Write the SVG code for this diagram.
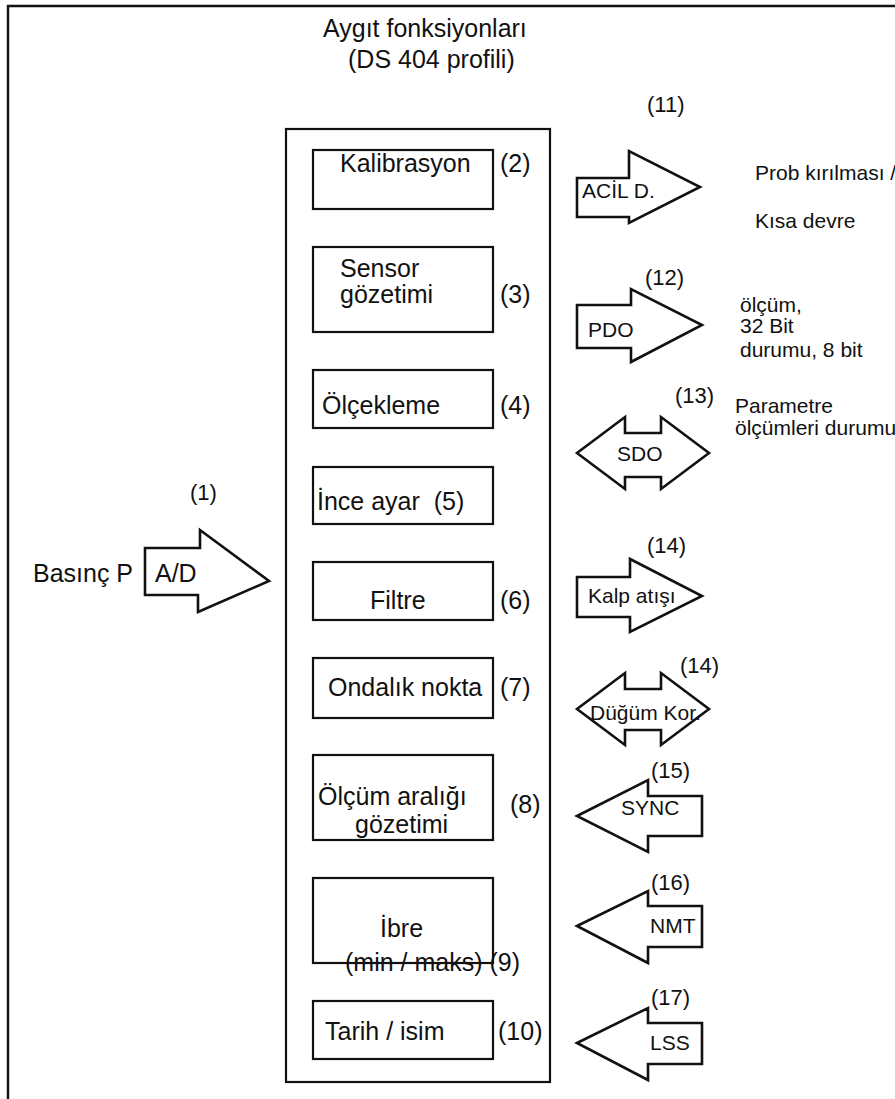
<svg xmlns="http://www.w3.org/2000/svg" width="895" height="1099" viewBox="0 0 895 1099">
<style>
text{font-family:"Liberation Sans",Arial,sans-serif;fill:#111;}
.t{font-size:25px;}
.s{font-size:21px;}
.n{font-size:22px;}
.box{fill:#fff;stroke:#111;stroke-width:2.2;}
.arr{fill:#fff;stroke:#111;stroke-width:2.6;stroke-linejoin:miter;}
.frame{fill:none;stroke:#111;stroke-width:2.4;}
</style>
<rect width="895" height="1099" fill="#fff"/>
<path class="frame" d="M8,1099 V6 H895"/>
<g id="title">
<text class="t" x="323" y="37">Aygıt fonksiyonları</text>
<text class="t" x="348" y="68">(DS 404 profili)</text>
</g>
<g id="container"><rect class="box" x="286" y="129" width="264" height="953"/></g>
<g id="n2"><rect class="box" x="313" y="150" width="180" height="59"/><text class="t" x="340" y="172">Kalibrasyon</text><text class="t" x="500" y="172">(2)</text></g>
<g id="n3"><rect class="box" x="313" y="247" width="180" height="85"/><text class="t" x="340" y="277">Sensor</text><text class="t" x="340" y="303">gözetimi</text><text class="t" x="500" y="303">(3)</text></g>
<g id="n4"><rect class="box" x="313" y="370" width="180" height="58"/><text class="t" x="322" y="414">Ölçekleme</text><text class="t" x="500" y="414">(4)</text></g>
<g id="n5"><rect class="box" x="313" y="467" width="180" height="57"/><text class="t" x="317" y="510" xml:space="preserve">İnce ayar  (5)</text></g>
<g id="n6"><rect class="box" x="313" y="562" width="180" height="58"/><text class="t" x="370" y="609">Filtre</text><text class="t" x="500" y="609">(6)</text></g>
<g id="n7"><rect class="box" x="313" y="658" width="180" height="60"/><text class="t" x="328" y="696">Ondalık nokta</text><text class="t" x="500" y="696">(7)</text></g>
<g id="n8"><rect class="box" x="313" y="755" width="180" height="85"/><text class="t" x="318" y="805">Ölçüm aralığı</text><text class="t" x="355" y="833">gözetimi</text><text class="t" x="510" y="813">(8)</text></g>
<g id="n9"><rect class="box" x="313" y="878" width="180" height="85"/><text class="t" x="380" y="937">İbre</text><text class="t" x="345" y="971">(min / maks) (9)</text></g>
<g id="n10"><rect class="box" x="313" y="1001" width="180" height="58"/><text class="t" x="325" y="1040">Tarih / isim</text><text class="t" x="498" y="1040">(10)</text></g>
<g id="connectors">
<g id="ad"><polygon class="arr" points="145,548 200,548 200,530 269,581 198,612 198,595 145,595"/><text class="t" x="155" y="582">A/D</text><text class="t" x="33" y="582">Basınç P</text><text class="n" x="190" y="500">(1)</text></g>
<g id="acil"><polygon class="arr" points="577,178 629,178 629,151 700,187 629,223 629,217 577,217"/><text class="s" x="582" y="198">ACİL D.</text><text class="n" x="647" y="112">(11)</text></g>
<g id="pdo"><polygon class="arr" points="577,305 631,305 631,289 702,325 631,362 631,348 577,348"/><text class="s" x="588" y="337">PDO</text><text class="n" x="645" y="285">(12)</text></g>
<g id="sdo"><polygon class="arr" points="577,453 625,417 625,433 661,433 661,417 709,453 661,489 661,477 625,477 625,489"/><text class="s" x="617" y="461">SDO</text><text class="n" x="675" y="403">(13)</text></g>
<g id="kalp"><polygon class="arr" points="577,577 630,577 630,559 702,596 630,632 630,617 577,617"/><text class="s" x="588" y="603">Kalp atışı</text><text class="n" x="647" y="553">(14)</text></g>
<g id="dugum"><polygon class="arr" points="577,709 625,673 625,689 661,689 661,673 709,709 661,745 661,730 625,730 625,745"/><text class="s" x="590" y="720">Düğüm Kor.</text><text class="n" x="680" y="673">(14)</text></g>
<g id="sync"><polygon class="arr" points="577,816 648,780 648,796 702,796 702,836 648,836 648,852"/><text class="s" x="621" y="815">SYNC</text><text class="n" x="651" y="778">(15)</text></g>
<g id="nmt"><polygon class="arr" points="577,926 648,891 648,906 702,906 702,947 648,947 648,963"/><text class="s" x="650" y="933">NMT</text><text class="n" x="651" y="890">(16)</text></g>
<g id="lss"><polygon class="arr" points="577,1043 648,1008 648,1023 702,1023 702,1064 648,1064 648,1080"/><text class="s" x="650" y="1050">LSS</text><text class="n" x="651" y="1005">(17)</text></g>
</g>
<g id="labels">
<text class="s" x="755" y="180">Prob kırılması /</text>
<text class="s" x="755" y="228">Kısa devre</text>
<text class="s" x="740" y="312">ölçüm,</text>
<text class="s" x="740" y="333">32 Bit</text>
<text class="s" x="740" y="357">durumu, 8 bit</text>
<text class="s" x="735" y="413">Parametre</text>
<text class="s" x="735" y="435">ölçümleri durumu</text>
</g>
</svg>
